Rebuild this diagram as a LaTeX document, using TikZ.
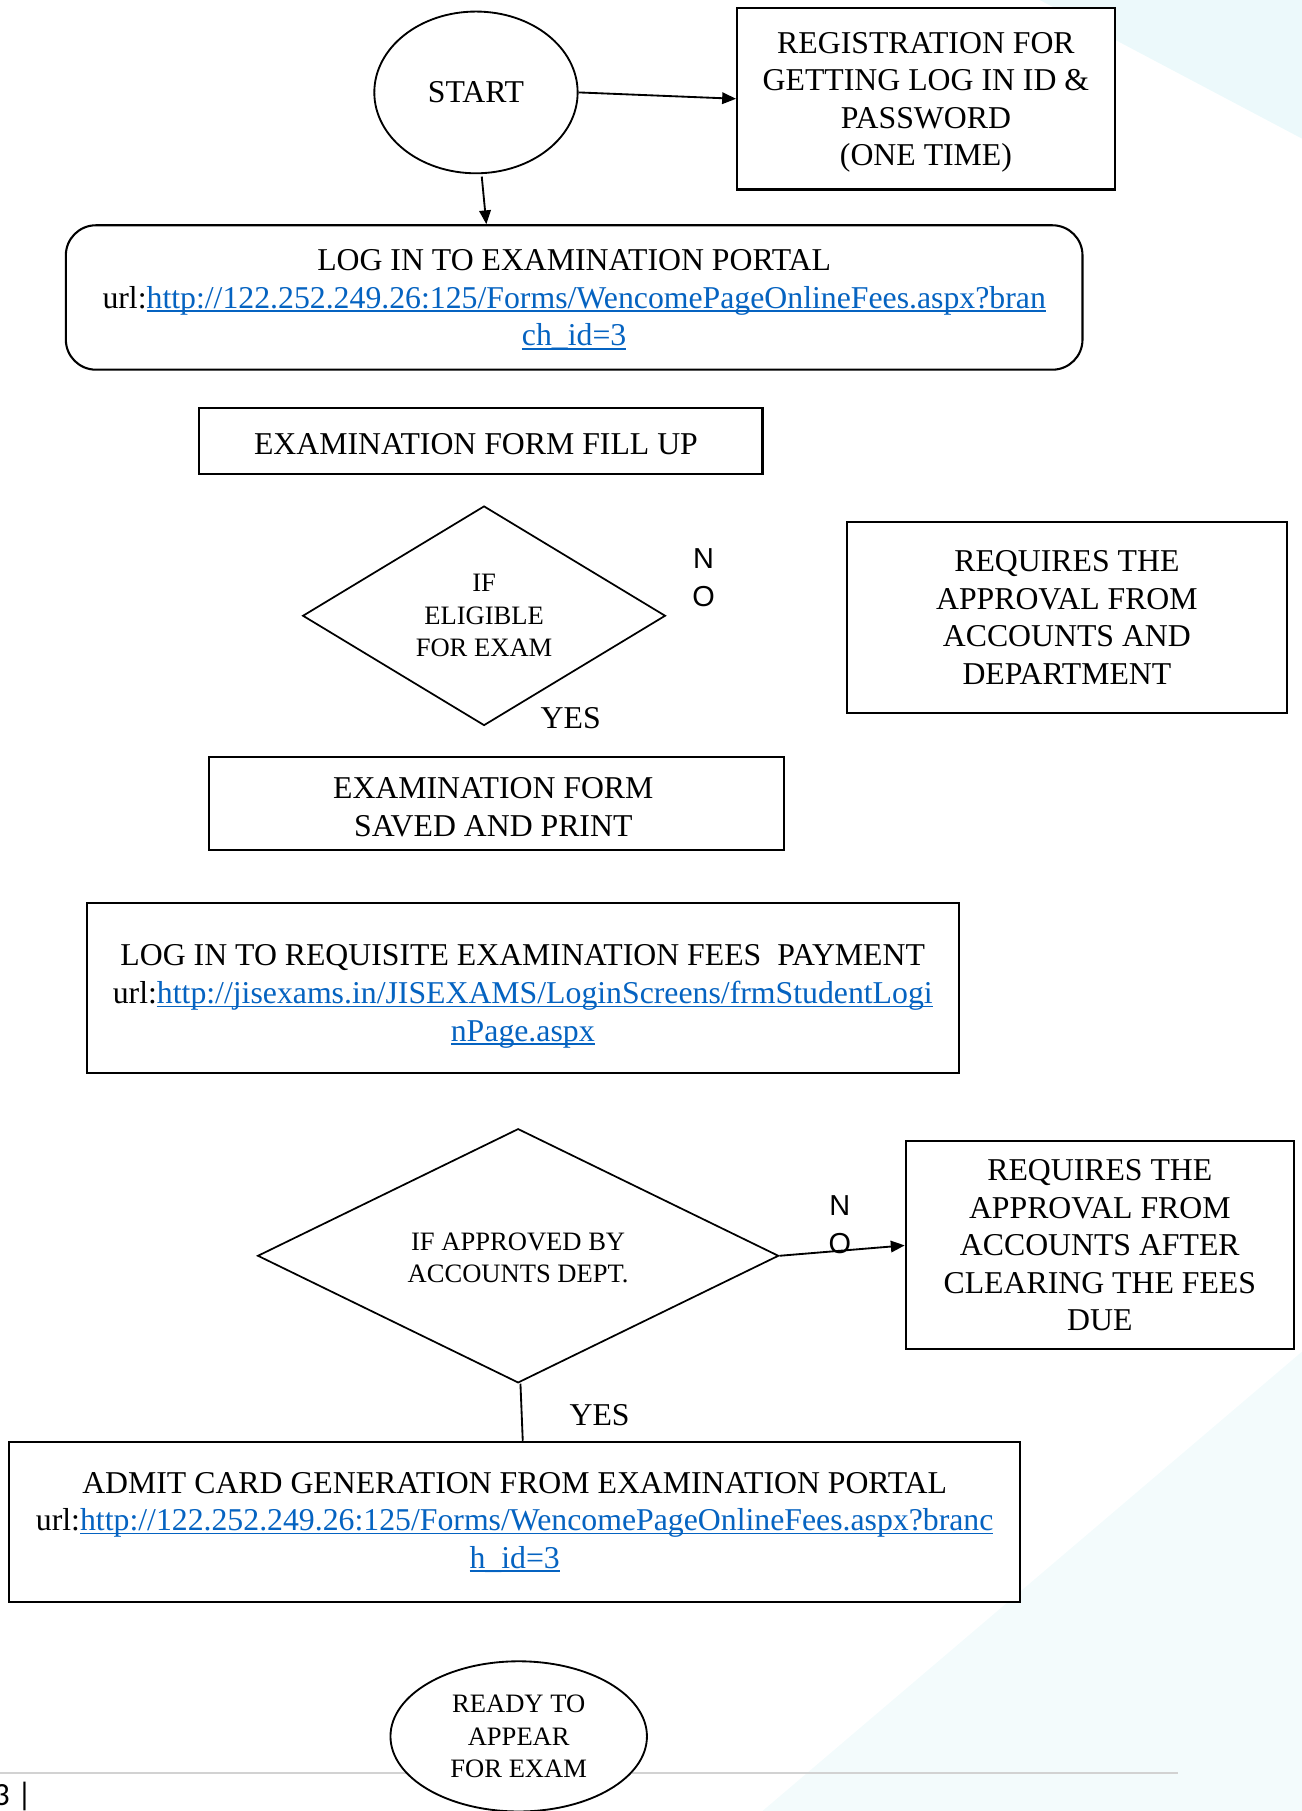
\documentclass[tikz,border=0pt]{standalone}
\usepackage{fontspec}
\setmainfont{Liberation Serif}
\newfontfamily\labelsans{Liberation Sans}
\newfontfamily\pagefont{Carlito}
\usetikzlibrary{shapes.geometric,arrows.meta,calc}
\definecolor{linkblue}{RGB}{5,99,193}
\definecolor{bgcyan}{RGB}{236,249,251}
\definecolor{bgcyanb}{RGB}{243,251,252}
\newcommand\lnk[1]{{\color{linkblue}\setbox0\hbox{#1}\rlap{\rule[-3.2pt]{\wd0}{1.3pt}}\box0}}
\tikzset{
  boxstyle/.style={draw, line width=1.8pt, fill=white, rectangle, inner sep=0pt, align=center,
    font=\fontsize{27.5}{32.5}\selectfont},
  ovalstyle/.style={draw, line width=1.6pt, fill=white, ellipse, inner sep=0pt, align=center},
  decstyle/.style={draw, line width=1.5pt, fill=white, diamond, inner sep=0pt, align=center,
    font=\fontsize{23}{28}\selectfont},
  lbl/.style={inner sep=0pt, align=center, font=\fontsize{27.5}{32.5}\selectfont},
  nolbl/.style={inner sep=0pt, align=center, font=\labelsans\fontsize{25}{33}\selectfont},
  conn/.style={line width=1.6pt, -{Triangle[length=12pt,width=10pt]}},
  plain/.style={line width=1.6pt}
}
\begin{document}
\begin{tikzpicture}[x=1pt,y=-1pt]
\useasboundingbox (0,0) rectangle (1127,1567.6);
% faint background
\fill[bgcyan] (900,0) -- (1127,0) -- (1127,120) -- cycle;
\fill[bgcyanb] (660,1567.6) -- (1127,1170) -- (1127,1567.6) -- cycle;
\draw[gray!35, line width=1.5pt] (0,1535) -- (1020,1535);
\node[anchor=west, inner sep=0pt, font=\pagefont\fontsize{28}{30}\selectfont] (pg) at (-6,1555) {3 |};

% nodes
\node[ovalstyle, minimum width=176pt, minimum height=140pt, font=\fontsize{27.5}{32.5}\selectfont] (start) at (412,80) {START};
\node[boxstyle, minimum width=327pt, minimum height=157pt] (reg) at (801.5,85.5) {};
\node[lbl] (regtext) at ($(reg.center)+(0,3)$)
  {REGISTRATION FOR\\GETTING LOG IN ID \&\\PASSWORD\\(ONE TIME)};
\node[boxstyle, rounded corners=26pt, minimum width=880pt, minimum height=125pt] (portal) at (497,257.5) {};
\node[lbl] (portaltext) at ($(portal.center)+(0,2)$)
  {LOG IN TO EXAMINATION PORTAL\\url:\lnk{http://122.252.249.26:125/Forms/WencomePageOnlineFees.aspx?bran}\\\lnk{ch\_id=3}};
\node[boxstyle, minimum width=488pt, minimum height=57pt] (fill) at (416,381.5) {};
\node[lbl] (filltext) at ($(fill.center)+(-4,3)$) {EXAMINATION FORM FILL UP};
\node[decstyle, minimum width=314pt, minimum height=190pt] (elig) at (419,533)
  {IF\\ELIGIBLE\\FOR EXAM};
\node[nolbl] (no1) at (609,500) {N\\O};
\node[boxstyle, minimum width=381pt, minimum height=165pt] (req1) at (923.5,534.5)
  {REQUIRES THE\\APPROVAL FROM\\ACCOUNTS AND\\DEPARTMENT};
\node[lbl] (yes1) at (494,622) {YES};
\node[boxstyle, minimum width=498pt, minimum height=81pt] (saved) at (430,695.5) {};
\node[lbl] (savedtext) at ($(saved.center)+(-3,3)$) {EXAMINATION FORM\\SAVED AND PRINT};
\node[boxstyle, minimum width=755pt, minimum height=147pt] (fees) at (452.5,855.5) {};
\node[lbl] (feestext) at ($(fees.center)+(0,7)$)
  {LOG IN TO REQUISITE EXAMINATION FEES\ \ PAYMENT\\url:\lnk{http://jisexams.in/JISEXAMS/LoginScreens/frmStudentLogi}\\\lnk{nPage.aspx}};
\node[decstyle, minimum width=451pt, minimum height=220pt] (appr) at (448.5,1087) {};
\node[inner sep=0pt, align=center, font=\fontsize{23}{28}\selectfont] (apprtext) at ($(appr.center)+(0,2)$)
  {IF APPROVED BY\\ACCOUNTS DEPT.};
\node[boxstyle, minimum width=336pt, minimum height=180pt] (req2) at (952,1078)
  {REQUIRES THE\\APPROVAL FROM\\ACCOUNTS AFTER\\CLEARING THE FEES\\DUE};
\node[lbl] (yes2) at (519,1225) {YES};
\node[boxstyle, minimum width=875pt, minimum height=139pt] (admit) at (445.5,1317.5)
  {ADMIT CARD GENERATION FROM EXAMINATION PORTAL\\url:\lnk{http://122.252.249.26:125/Forms/WencomePageOnlineFees.aspx?branc}\\\lnk{h\_id=3}};
\node[ovalstyle, minimum width=222pt, minimum height=130pt, font=\fontsize{23}{28}\selectfont] (ready) at (449,1503)
  {READY TO\\APPEAR\\FOR EXAM};

% connectors
\draw[conn] (start.east) -- (reg.west);
\draw[conn] ($(start.south)+(5,2)$) -- ($(start.south |- portal.north)+(9,0)$);
\draw[conn] (appr.east) -- (req2.west);
\draw[plain] ($(appr.south)+(2,0)$) -- ($(appr.south |- admit.north)+(4,0)$);
\node[nolbl] (no2) at (727,1060) {N\\O};
\end{tikzpicture}
\end{document}
